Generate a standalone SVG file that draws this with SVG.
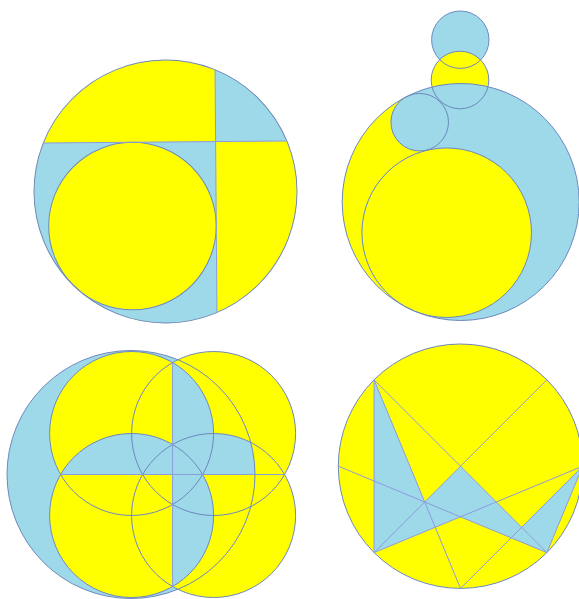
<svg xmlns="http://www.w3.org/2000/svg" width="579" height="599" viewBox="0 0 579 599">
<style>
.y{fill:#FFFF00;stroke:none}
.b{fill:#9DD9E8;stroke:none}
.o{fill:none;stroke:#6E88C0;stroke-width:1}
.l{fill:none;stroke:#8C9BDE;stroke-width:1}
</style>
<defs>
<clipPath id="q1tr"><rect x="216" y="40" width="100" height="102"/></clipPath>
<clipPath id="q1bl"><rect x="20" y="142" width="196" height="200"/></clipPath>
<clipPath id="q3v"><rect x="172.6" y="340" width="130" height="260"/></clipPath>
<clipPath id="q3h"><rect x="0" y="340" width="300" height="134.5"/></clipPath>
<clipPath id="q3bb"><circle cx="131" cy="474.5" r="124"/></clipPath>
</defs>
<rect width="579" height="599" fill="#FFFFFF"/>

<g id="figure1" transform="rotate(-0.45 165.5 191.5)">
<circle class="y" cx="165.5" cy="191.5" r="131.5"/>
<circle class="b" cx="165.5" cy="191.5" r="131.5" clip-path="url(#q1tr)"/>
<circle class="b" cx="165.5" cy="191.5" r="131.5" clip-path="url(#q1bl)"/>
<circle class="y" cx="132.2" cy="225.8" r="83.76"/>
<circle class="o" cx="165.5" cy="191.5" r="131.5"/>
<circle class="o" cx="132.2" cy="225.8" r="83.76"/>
<line class="l" x1="43.9" y1="142" x2="287.1" y2="142"/>
<line class="l" x1="216" y1="70.1" x2="216" y2="312.9"/>
</g>

<g id="figure2">
<circle class="b" cx="460.3" cy="39.7" r="28.7"/>
<circle class="y" cx="460" cy="80" r="28.8"/>
<circle class="b" cx="460.7" cy="202" r="118.5"/>
<path class="y" d="M406.55,96.6 A118.5,118.5 0 0 0 411.53,309.82 A84.76,84.76 0 0 1 426.53,150.16 A28.78,28.78 0 0 1 406.55,96.6 Z"/>
<circle class="y" cx="446.7" cy="232.7" r="84.76"/>
<circle class="o" cx="460.3" cy="39.7" r="28.7"/>
<circle class="o" cx="460" cy="80" r="28.8"/>
<circle class="o" cx="460.7" cy="202" r="118.5"/>
<circle class="o" cx="419.7" cy="122.2" r="28.78"/>
<circle class="o" cx="446.7" cy="232.7" r="84.76"/>
</g>

<g id="figure3">
<circle class="b" cx="131" cy="474.5" r="124"/>
<circle class="y" cx="131.6" cy="433.5" r="82"/>
<circle class="y" cx="213.6" cy="433.5" r="82"/>
<circle class="y" cx="131.6" cy="515.5" r="82"/>
<circle class="y" cx="213.6" cy="515.5" r="82"/>
<g clip-path="url(#q3v)">
<circle class="b" cx="131.6" cy="433.5" r="82"/>
<circle class="b" cx="131.6" cy="515.5" r="82"/>
</g>
<g clip-path="url(#q3bb)">
<g clip-path="url(#q3h)">
<circle class="b" cx="131.6" cy="515.5" r="82"/>
<circle class="b" cx="213.6" cy="515.5" r="82"/>
</g>
</g>
<circle class="o" cx="131" cy="474.5" r="124"/>
<circle class="o" cx="131.6" cy="433.5" r="82"/>
<circle class="o" cx="213.6" cy="433.5" r="82"/>
<circle class="o" cx="131.6" cy="515.5" r="82"/>
<circle class="o" cx="213.6" cy="515.5" r="82"/>
<line class="l" x1="60.6" y1="474.5" x2="284.6" y2="474.5"/>
<line class="l" x1="172.6" y1="362.5" x2="172.6" y2="586.5"/>
</g>

<g id="figure4">
<circle class="y" cx="460.5" cy="466.2" r="122.2"/>
<polygon class="b" points="374.09,379.79 374.09,552.61 460.5,516.8 546.91,552.61 460.5,466.2 424.7,502"/>
<polygon class="b" points="521.6,527.3 582.7,466.2 546.91,552.61"/>
<circle class="o" cx="460.5" cy="466.2" r="122.2"/>
<g id="chords">
<line class="l" x1="374.09" y1="379.79" x2="374.09" y2="552.61"/>
<line class="l" x1="374.09" y1="379.79" x2="546.91" y2="552.61"/>
<line class="l" x1="374.09" y1="379.79" x2="460.5" y2="588.4"/>
<line class="l" x1="546.91" y1="379.79" x2="374.09" y2="552.61"/>
<line class="l" x1="338.3" y1="466.2" x2="546.91" y2="552.61"/>
<line class="l" x1="374.09" y1="552.61" x2="582.7" y2="466.2"/>
<line class="l" x1="460.5" y1="588.4" x2="582.7" y2="466.2"/>
<line class="l" x1="546.91" y1="552.61" x2="582.7" y2="466.2"/>
</g>
</g>
</svg>
